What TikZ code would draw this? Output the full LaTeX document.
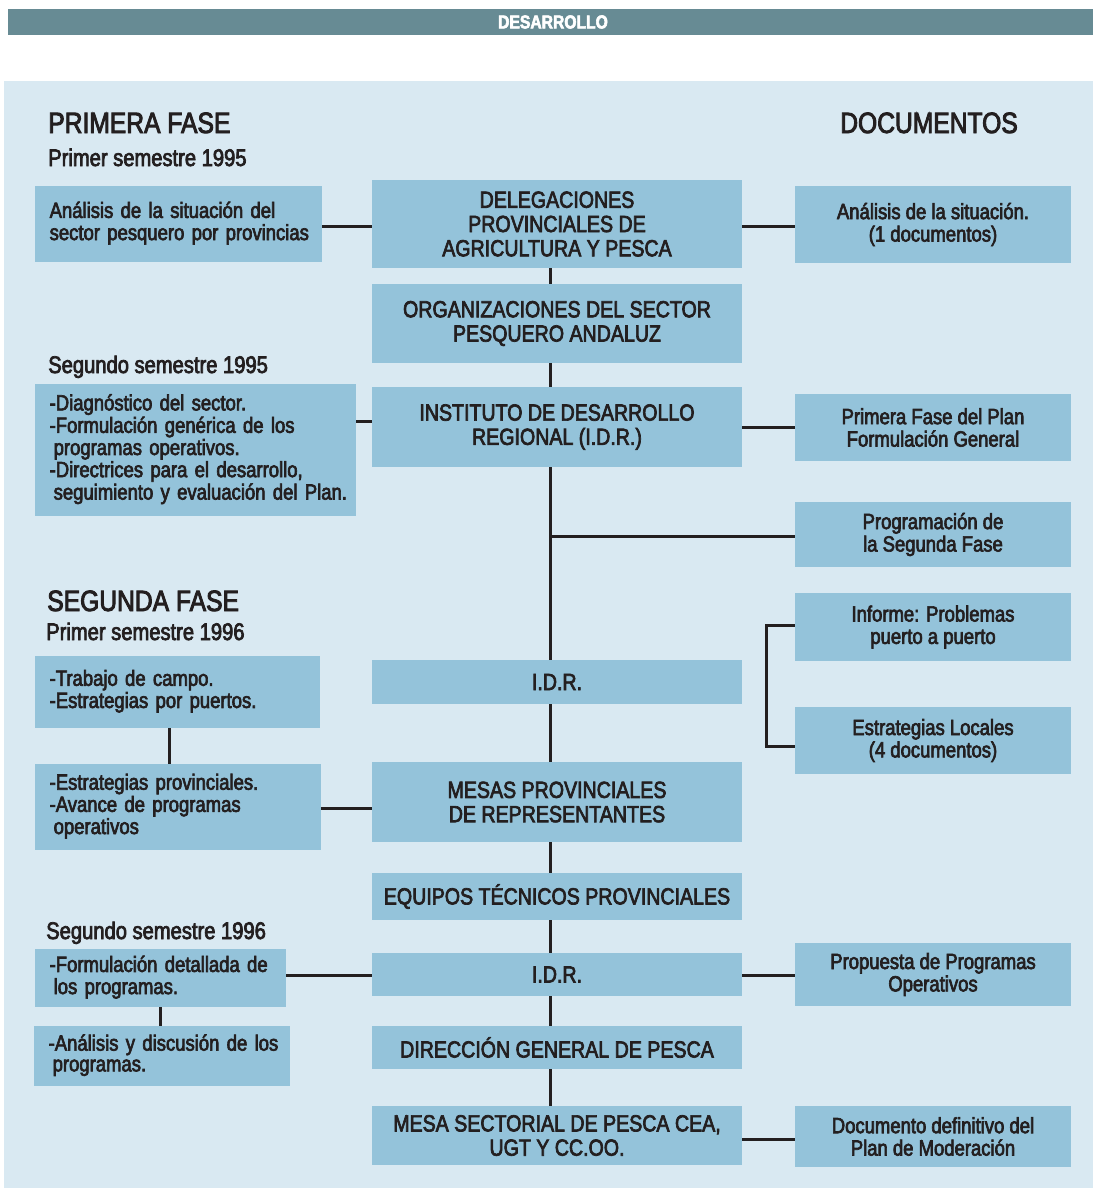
\documentclass[tikz,border=0pt]{standalone}
\usepackage{fontspec}
\setmainfont{Liberation Sans}[FakeStretch=0.84,FakeBold=3]
\usepackage{xcolor}
\usepackage{tikz}
\usetikzlibrary{positioning, calc}

\definecolor{barcol}{HTML}{678B94}
\definecolor{panelcol}{HTML}{D9E9F2}
\definecolor{boxcol}{HTML}{94C3DA}
\definecolor{inkcol}{HTML}{231F20}

\newcommand{\notelines}[1]{{\renewcommand{\arraystretch}{0.96}\begin{tabular}{@{}l@{}}#1\end{tabular}}}

\tikzset{
	centerbox/.style={fill=boxcol, text=inkcol, align=center, inner sep=0pt,
		minimum width=277.5pt, font=\fontsize{17.5}{18.2}\selectfont},
	docbox/.style={fill=boxcol, text=inkcol, align=center, inner sep=0pt,
		minimum width=207pt, font=\fontsize{16.5}{16.8}\selectfont},
	notebox/.style={fill=boxcol, text=inkcol, align=left, inner xsep=11pt, inner ysep=0pt,
		font=\fontsize{16.5}{16.2}\selectfont},
	heading/.style={text=inkcol, anchor=base west, inner sep=0pt, font=\fontsize{22}{22}\selectfont},
	subheading/.style={text=inkcol, anchor=base west, inner sep=0pt, font=\fontsize{18}{18}\selectfont},
	link/.style={draw=inkcol, line width=2.25pt}
}

\begin{document}
\begin{tikzpicture}[x=0.75pt, y=-0.75pt]
	\useasboundingbox (0,0) rectangle (1093,1188);
	\fill[white] (0,0) rectangle (1093,1188);
	\fill[barcol] (8,9) rectangle (1093,35); % top bar
	\fill[panelcol] (4,81) rectangle (1093,1188); % panel
	\node[text=white, font=\fontsize{14}{14}\selectfont\bfseries] (title) at (553,22) {DESARROLLO};
	
	% Headings
	\node[heading] (fase1) at (48,133) {PRIMERA FASE};
	\node[subheading] (sem95a) at (48,166) {Primer semestre 1995};
	\node[subheading] (sem95b) at (48,373) {Segundo semestre 1995};
	\node[heading] (fase2) at (47,611) {SEGUNDA FASE};
	\node[subheading] (sem96a) at (46,640) {Primer semestre 1996};
	\node[subheading] (sem96b) at (46,939) {Segundo semestre 1996};
	\node[heading, anchor=base] (docs) at (929,133) {DOCUMENTOS};
	
	% Central column
	\node[centerbox, minimum height=66pt] (deleg) at (557,224) {DELEGACIONES\\PROVINCIALES DE\\AGRICULTURA Y PESCA};
	\node[centerbox, minimum height=59.25pt] (organ) at (557,323.5) {ORGANIZACIONES DEL SECTOR\\PESQUERO ANDALUZ};
	\node[centerbox, minimum height=60pt] (instit) at (557,427) {INSTITUTO DE DESARROLLO\\REGIONAL (I.D.R.)};
	\node[centerbox, minimum height=33pt] (idra) at (557,682) {I.D.R.};
	\node[centerbox, minimum height=60pt] (mesas) at (557,802) {MESAS PROVINCIALES\\DE REPRESENTANTES};
	\node[centerbox, minimum height=35.25pt] (equipos) at (557,896.5) {EQUIPOS TÉCNICOS PROVINCIALES};
	\node[centerbox, minimum height=32.25pt] (idrb) at (557,974.5) {I.D.R.};
	\node[centerbox, minimum height=32.25pt] (direccion) at (557,1047.5) {DIRECCIÓN GENERAL DE PESCA};
	\node[centerbox, minimum height=44.25pt] (sectorial) at (557,1135.5) {MESA SECTORIAL DE PESCA CEA,\\UGT Y CC.OO.};
	
	% Documents column
	\node[docbox, minimum height=57.75pt] (doca) at (933,224.5) {Análisis de la situación.\\(1 documentos)};
	\node[docbox, minimum height=50.25pt] (docb) at (933,427.5) {Primera Fase del Plan\\Formulación General};
	\node[docbox, minimum height=48.75pt] (docc) at (933,534.5) {Programación de\\la Segunda Fase};
	\node[docbox, minimum height=51pt] (docd) at (933,627) {Informe: Problemas\\puerto a puerto};
	\node[docbox, minimum height=50.25pt] (doce) at (933,740.5) {Estrategias Locales\\(4 documentos)};
	\node[docbox, minimum height=47.25pt] (docf) at (933,974.5) {Propuesta de Programas\\Operativos};
	\node[docbox, minimum height=45.75pt] (docg) at (933,1136.5) {Documento definitivo del\\Plan de Moderación};
	
	% Notes column
	\node[notebox, text width=193.25pt, minimum height=57pt] (nota) at (178.5,224) {\notelines{Análisis de la situación del\\sector pesquero por provincias}};
	\node[notebox, text width=218.75pt, minimum height=99pt] (notb) at (195.5,450) {\notelines{-Diagnóstico del sector.\\-Formulación genérica de los\\\hspace*{3pt}programas operativos.\\-Directrices para el desarrollo,\\\hspace*{3pt}seguimiento y evaluación del Plan.}};
	\node[notebox, text width=191.75pt, minimum height=54pt] (notc) at (177.5,692) {\notelines{-Trabajo de campo.\\-Estrategias por puertos.}};
	\node[notebox, text width=192.5pt, minimum height=64.5pt] (notd) at (178,807) {\notelines{-Estrategias provinciales.\\-Avance de programas\\\hspace*{3pt}operativos}};
	\node[notebox, text width=166.25pt, minimum height=43.5pt] (note) at (160.5,978) {\notelines{-Formulación detallada de\\\hspace*{3pt}los programas.}};
	\node[notebox, text width=170pt, minimum height=45pt] (notf) at (162,1056) {\notelines{-Análisis y discusión de los\\\hspace*{3pt}programas.}};
	
	% Spine
	\coordinate (spine) at (550,0);
	\draw[link] (deleg.south -| spine) -- (organ.north -| spine);
	\draw[link] (organ.south -| spine) -- (instit.north -| spine);
	\draw[link] (instit.south -| spine) -- (idra.north -| spine);
	\draw[link] (idra.south -| spine) -- (mesas.north -| spine);
	\draw[link] (mesas.south -| spine) -- (equipos.north -| spine);
	\draw[link] (equipos.south -| spine) -- (idrb.north -| spine);
	\draw[link] (idrb.south -| spine) -- (direccion.north -| spine);
	\draw[link] (direccion.south -| spine) -- (sectorial.north -| spine);
	
	% Side links
	\draw[link] (nota.east |- 0,226) -- (deleg.west |- 0,226);
	\draw[link] (deleg.east |- 0,226) -- (doca.west |- 0,226);
	\draw[link] (notb.east |- 0,421) -- (instit.west |- 0,421);
	\draw[link] (instit.east |- 0,427) -- (docb.west |- 0,427);
	\draw[link] (docc.west |- 0,536) -- (spine |- 0,536);
	\draw[link] (docd.west |- 0,625) -| (766,0 |- 0,685) |- (doce.west |- 0,746);
	\draw[link] (notc.south -| 169,0) -- (notd.north -| 169,0);
	\draw[link] (notd.east |- 0,808) -- (mesas.west |- 0,808);
	\draw[link] (note.east |- 0,975) -- (idrb.west |- 0,975);
	\draw[link] (idrb.east |- 0,975) -- (docf.west |- 0,975);
	\draw[link] (note.south -| 160,0) -- (notf.north -| 160,0);
	\draw[link] (sectorial.east |- 0,1139) -- (docg.west |- 0,1139);
\end{tikzpicture}
\end{document}
